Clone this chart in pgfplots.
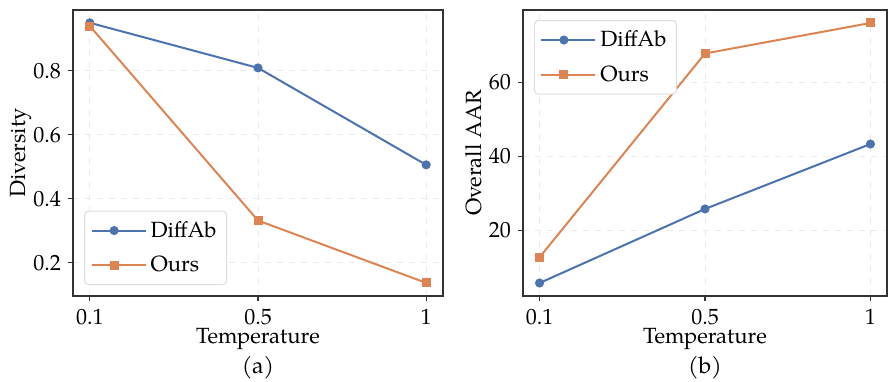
\documentclass[border=0pt]{standalone}
\usepackage{fontspec}
\setmainfont{texgyrepagella-regular.otf}
\usepackage{pgfplots}
\pgfplotsset{compat=1.18}
\definecolor{cblue}{HTML}{4C72B0}
\definecolor{corange}{HTML}{DD8452}
\definecolor{spine}{HTML}{333333}
\definecolor{gridc}{HTML}{EBEBEB}
\definecolor{legc}{HTML}{DDDDDD}
\pgfplotsset{
  mystyle/.style={
    scale only axis,
    anchor=north west,
    height=143pt,
    xmin=-0.1, xmax=2.1,
    xtick={0,1,2},
    xticklabels={0.1,0.5,1},
    tick pos=left,
    tick align=outside,
    major tick length=2.5pt,
    tick style={spine, line width=0.6pt},
    axis line style={spine, line width=0.7pt},
    grid=major,
    grid style={gridc, dashed, line width=0.4pt},
    /pgf/number format/assume math mode=true,
    tick label style={font=\fontsize{11}{13}\selectfont},
    xticklabel style={yshift=-0.5pt},
    xlabel={Temperature},
    label style={font=\fontsize{11}{13}\selectfont},
    xlabel style={at={(axis description cs:0.5,0)}, anchor=center, yshift=-21.5pt},
    clip=false,
    legend cell align=left,
    legend style={draw=legc, rounded corners=2pt, line width=0.5pt,
      font=\fontsize{11}{13}\selectfont, inner xsep=3pt, inner ysep=3pt, row sep=4pt},
    legend image code/.code={
      \draw[mark repeat=2,mark phase=2] plot coordinates {(0cm,0cm) (11.25pt,0cm) (22.5pt,0cm)};
      \path (0pt,0pt) -- (27pt,0pt);
    },
  },
}
\begin{document}
\begin{tikzpicture}
\path[use as bounding box] (0,0) rectangle (444pt,-190.5pt);
\begin{axis}[mystyle,
  at={(36.5pt,-5pt)}, width=185pt,
  ymin=0.096, ymax=0.99,
  ytick={0.2,0.4,0.6,0.8},
  yticklabel style={/pgf/number format/fixed, /pgf/number format/precision=1, /pgf/number format/fixed zerofill},
  ylabel={Diversity},
  ylabel style={at={(axis description cs:0,0.5)}, anchor=center, yshift=26pt},
  legend style={at={(rel axis cs:0.03,0.038)}, anchor=south west},
]
\addplot[cblue, line width=1pt, mark=*, mark size=1.75pt] coordinates {(0,0.95) (1,0.809) (2,0.506)};
\addlegendentry{DiffAb\hspace{3pt}}
\addplot[corange, line width=1pt, mark=square*, mark size=1.75pt] coordinates {(0,0.94) (1,0.332) (2,0.137)};
\addlegendentry{Ours}
\node at (rel axis cs:0.5,0) [yshift=-36pt] {\fontsize{11.5}{13}\selectfont (a)};
\end{axis}
\begin{axis}[mystyle,
  at={(261.5pt,-5pt)}, width=182pt,
  ymin=2.25, ymax=79.5,
  ytick={20,40,60},
  ylabel={Overall AAR},
  ylabel style={at={(axis description cs:0,0.5)}, anchor=center, yshift=24.5pt},
  legend style={at={(rel axis cs:0.03,0.965)}, anchor=north west},
]
\addplot[cblue, line width=1pt, mark=*, mark size=1.75pt] coordinates {(0,5.76) (1,25.76) (2,43.3)};
\addlegendentry{DiffAb\hspace{3pt}}
\addplot[corange, line width=1pt, mark=square*, mark size=1.75pt] coordinates {(0,12.7) (1,67.75) (2,76.0)};
\addlegendentry{Ours}
\node at (rel axis cs:0.5,0) [yshift=-36pt] {\fontsize{11.5}{13}\selectfont (b)};
\end{axis}
\end{tikzpicture}
\end{document}
